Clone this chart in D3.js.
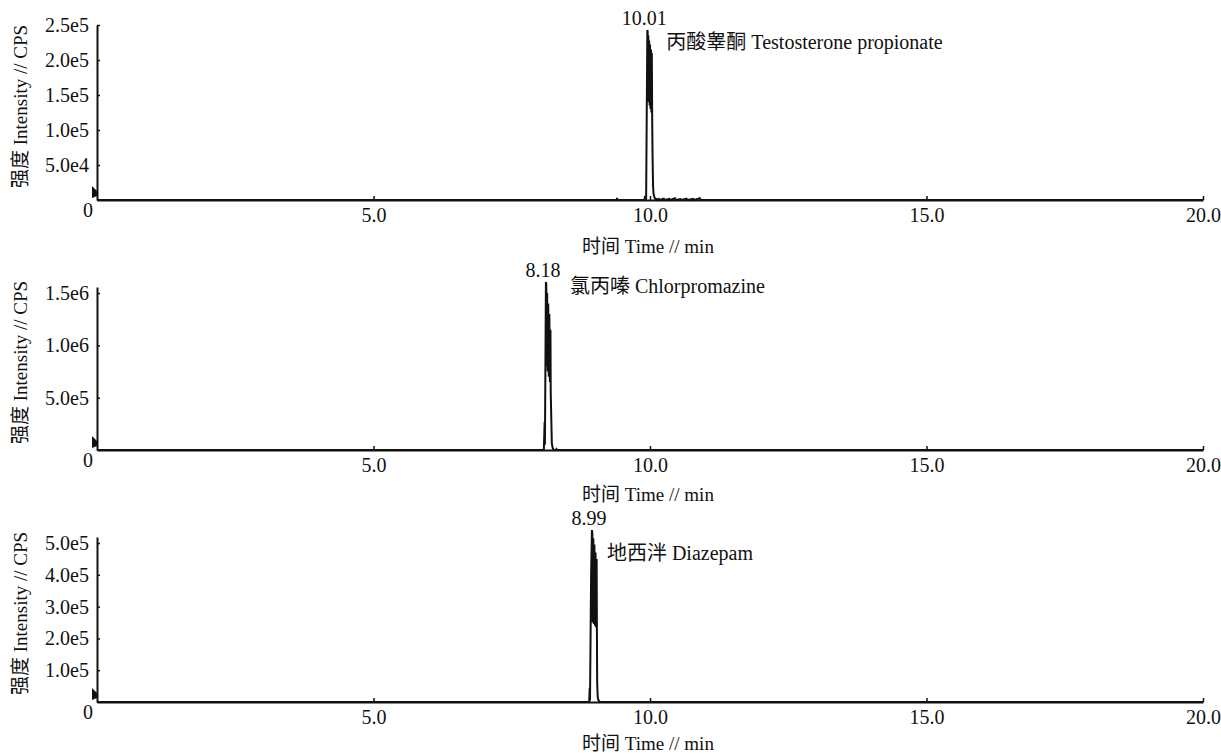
<!DOCTYPE html>
<html>
<head>
<meta charset="utf-8">
<script src="https://cdn.jsdelivr.net/npm/d3@7"></script>
<style>
  html, body { margin: 0; padding: 0; background: #fff; }
  svg { display: block; }
  text { font-family: "Liberation Serif", "Noto Sans CJK SC", serif; fill: #111; }
</style>
</head>
<body>
<svg id="chart" width="1221" height="754"></svg>
<script>
// ---------------- data ----------------
const compounds = ["丙酸睾酮 Testosterone propionate", "氯丙嗪 Chlorpromazine", "地西泮 Diazepam"];
const peakLabels = ["10.01", "8.18", "8.99"];
const xTicks = [5, 10, 15, 20];
const xTickLabels = ["5.0", "10.0", "15.0", "20.0"];
const xTitle = "时间 Time // min";
const yTitle = "强度 Intensity // CPS";

const yTicks1 = [50000, 100000, 150000, 200000, 250000];
const yTickLabels1 = ["5.0e4", "1.0e5", "1.5e5", "2.0e5", "2.5e5"];
const yTicks2 = [500000, 1000000, 1500000];
const yTickLabels2 = ["5.0e5", "1.0e6", "1.5e6"];
const yTicks3 = [100000, 200000, 300000, 400000, 500000];
const yTickLabels3 = ["1.0e5", "2.0e5", "3.0e5", "4.0e5", "5.0e5"];
const yMax = [250000, 1558000, 519000];

// trace 1: Testosterone propionate (time min, intensity cps)
const time1 = [0, 9.40, 9.405, 9.41, 9.90, 9.91, 9.915, 9.925, 9.93, 9.952, 9.958, 9.963, 9.970, 9.977, 9.985, 9.993, 10.001, 10.009, 10.017, 10.025, 10.033, 10.040, 10.047, 10.055, 10.065, 10.080, 10.095, 10.11, 10.12,
  10.16, 10.18, 10.25, 10.27, 10.35, 10.37, 10.45, 10.47, 10.55, 10.57, 10.66, 10.68, 10.78, 10.80, 10.90, 10.92, 20];
const inten1 = [0, 0, 3000, 0, 0, 6000, 0, 0, 2000, 243000, 240000, 150000, 235000, 140000, 228000, 135000, 222000, 130000, 215000, 125000, 210000, 110000, 60000, 20000, 8000, 4000, 1000, 2500, 0,
  1500, 0, 2000, 0, 1500, 0, 2500, 0, 1200, 0, 2000, 0, 1500, 0, 2500, 0, 0];

// trace 2: Chlorpromazine
const time2 = [0, 8.08, 8.095, 8.10, 8.118, 8.125, 8.13, 8.14, 8.15, 8.16, 8.17, 8.18, 8.19, 8.20, 8.205, 8.215, 8.225, 8.24, 8.26, 8.30, 8.31, 8.32, 20];
const inten2 = [0, 0, 270000, 50000, 1606000, 1580000, 800000, 1500000, 750000, 1400000, 700000, 1300000, 650000, 1150000, 550000, 300000, 60000, 20000, 0, 0, 8000, 0, 0];

// trace 3: Diazepam
const time3 = [0, 8.90, 8.91, 8.915, 8.935, 8.95, 8.958, 8.965, 8.975, 8.985, 8.995, 9.005, 9.015, 9.025, 9.035, 9.04, 9.045, 9.055, 9.07, 9.09, 9.10, 20];
const inten3 = [0, 0, 45000, 5000, 400000, 541000, 530000, 250000, 515000, 245000, 495000, 240000, 470000, 235000, 450000, 225000, 60000, 15000, 5000, 1500, 0, 0];

// ---------------- layout ----------------
const W = 1221;
const xRange = [97, 1203];
const panelY = [[200, 25], [450, 287], [702, 537]];        // [baseline, top]
const nameOffset = [[19, 12], [24, 4], [15, 23]];          // compound label offset from apex
const xTitleOffset = [47, 45, 42];
const FS = 20;
const times = [time1, time2, time3];
const intens = [inten1, inten2, inten3];
const yTicksAll = [yTicks1, yTicks2, yTicks3];
const yLabelsAll = [yTickLabels1, yTickLabels2, yTickLabels3];

const svg = d3.select("#chart");
svg.append("rect").attr("width", W).attr("height", 754).attr("fill", "#fff");

const x = d3.scaleLinear().domain([0, 20]).range(xRange);

for (let p = 0; p < 3; p++) {
  const [base, top] = panelY[p];
  const y = d3.scaleLinear().domain([0, yMax[p]]).range([base, top]);
  const g = svg.append("g");

  // y axis
  const yAxis = d3.axisLeft(y)
    .tickValues(yTicksAll[p])
    .tickFormat((d, i) => yLabelsAll[p][i])
    .tickSizeInner(-3).tickSizeOuter(0).tickPadding(8);
  const gy = g.append("g").attr("transform", `translate(${xRange[0]},0)`).call(yAxis);
  gy.select(".domain").attr("stroke", "#111").attr("stroke-width", 2);
  gy.selectAll(".tick line").attr("stroke", "#111").attr("stroke-width", 1.5);
  gy.selectAll("text").attr("font-size", FS).attr("fill", "#111");

  // x axis
  const xAxis = d3.axisBottom(x)
    .tickValues(xTicks)
    .tickFormat((d, i) => xTickLabels[i])
    .tickSizeInner(-4).tickSizeOuter(0).tickPadding(8);
  const gx = g.append("g").attr("transform", `translate(0,${base})`).call(xAxis);
  gx.select(".domain").attr("stroke", "#111").attr("stroke-width", 2);
  gx.selectAll(".tick line").attr("stroke", "#111").attr("stroke-width", 1.5);
  gx.selectAll("text").attr("font-size", FS).attr("fill", "#111");

  // origin "0"
  g.append("text").attr("x", x(0) - 9).attr("y", y(0) + 10).attr("dy", "0.35em")
    .attr("text-anchor", "middle").attr("font-size", FS).text("0");

  // small marker at origin
  const x0 = x(0), y0 = y(0);
  g.append("path")
    .attr("d", `M${x0 - 5},${y0 - 14} L${x0},${y0 - 9} L${x0},${y0 - 4} L${x0 - 5},${y0 - 2} Z`)
    .attr("fill", "#111");

  // trace
  const pts = times[p].map((t, i) => [t, intens[p][i]]);
  const line = d3.line().x(d => x(d[0])).y(d => y(d[1]));
  g.append("path").datum(pts).attr("d", line)
    .attr("fill", "none").attr("stroke", "#111").attr("stroke-width", 2)
    .attr("stroke-linejoin", "miter").attr("stroke-miterlimit", 2);

  // apex labels
  const apex = pts.reduce((a, b) => (b[1] > a[1] ? b : a));
  const ax = x(apex[0]), ay = y(apex[1]);
  g.append("text").attr("x", ax - 3).attr("y", ay - 5)
    .attr("text-anchor", "middle").attr("font-size", FS).text(peakLabels[p]);
  g.append("text").attr("x", ax + nameOffset[p][0]).attr("y", ay + nameOffset[p][1]).attr("dy", "0.35em")
    .attr("font-size", FS).text(compounds[p]);

  // axis titles
  g.append("text").attr("x", 648).attr("y", base + xTitleOffset[p]).attr("dy", "0.32em")
    .attr("text-anchor", "middle").attr("font-size", FS - 1).text(xTitle);
  g.append("text")
    .attr("transform", `translate(20,${(base + top) / 2 - 6}) rotate(-90)`)
    .attr("dy", "0.35em").attr("text-anchor", "middle").attr("font-size", FS - 1).text(yTitle);
}
</script>
</body>
</html>
